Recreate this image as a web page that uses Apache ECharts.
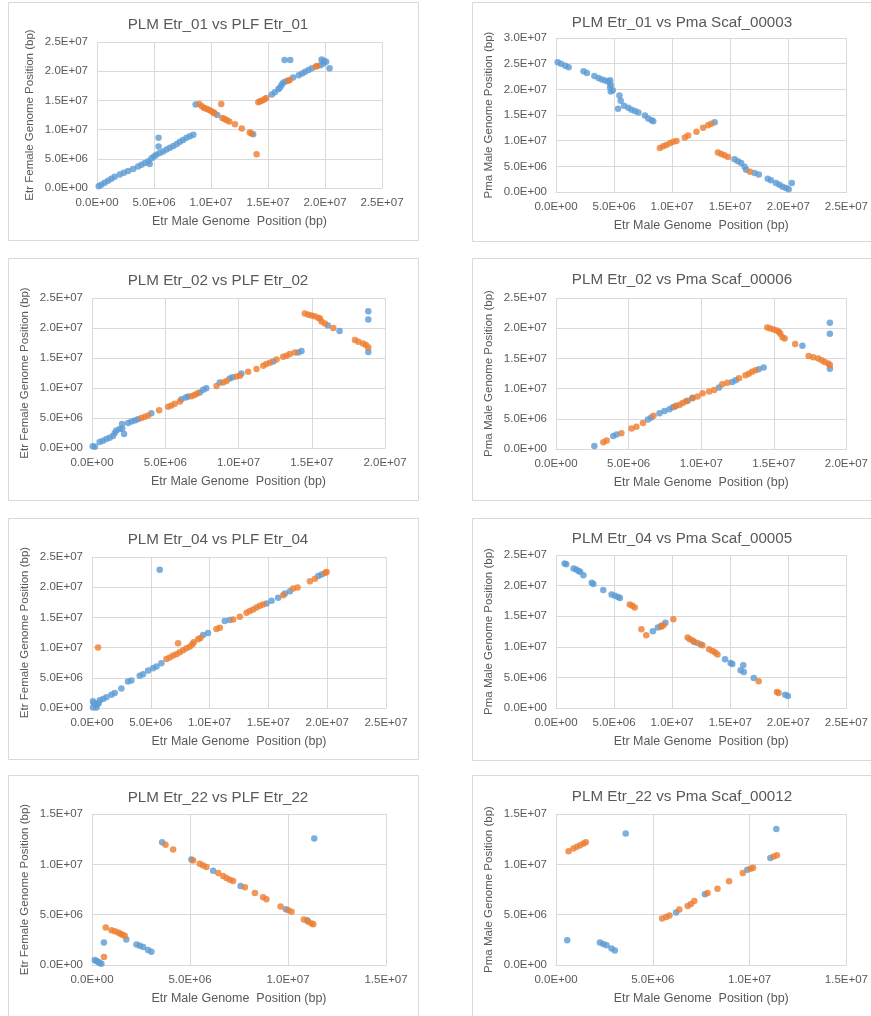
<!DOCTYPE html>
<html><head><meta charset="utf-8">
<script src="https://cdn.jsdelivr.net/npm/echarts@6/dist/echarts.min.js"></script>
<style>html,body{margin:0;padding:0;background:#fff}#c{width:871px;height:1016px}</style>
</head><body><div id="c"></div>
<script>
// Values in megabases (1 unit = 1E+06 bp); axis labels show bp in Excel-style scientific format.
const titles = [
  "PLM Etr_01 vs PLF Etr_01", "PLM Etr_01 vs Pma Scaf_00003",
  "PLM Etr_02 vs PLF Etr_02", "PLM Etr_02 vs Pma Scaf_00006",
  "PLM Etr_04 vs PLF Etr_04", "PLM Etr_04 vs Pma Scaf_00005",
  "PLM Etr_22 vs PLF Etr_22", "PLM Etr_22 vs Pma Scaf_00012"
];
const xAxisTitle = "Etr Male Genome  Position (bp)";
const yTitleFemale = "Etr Female Genome Position (bp)";
const yTitlePma = "Pma Male Genome Position (bp)";
const xMax = [25, 25, 20, 20, 25, 25, 15, 15];
const yMax = [25, 30, 25, 25, 25, 25, 15, 15];
const tickStep = 5;

const p1Blue = [[0.15,0.28],[0.38,0.57],[0.67,0.9],[0.97,1.25],[1.26,1.6],[1.55,1.93],[2.0,2.33],[2.35,2.6],[2.73,2.9],[3.17,3.24],[3.6,3.7],[3.9,4.0],[4.2,4.26],[4.5,4.6],[4.62,4.1],[4.78,5.1],[5.0,5.4],[5.2,5.7],[5.5,6.0],[5.8,6.25],[6.1,6.6],[6.4,6.9],[6.7,7.2],[7.0,7.55],[7.27,7.9],[7.56,8.2],[7.85,8.6],[8.15,8.85],[8.45,9.1],[5.4,8.6],[5.4,7.1],[8.65,14.3],[10.55,12.5],[13.7,9.2],[15.33,16.0],[15.6,16.4],[15.9,16.9],[16.06,17.2],[16.2,17.7],[16.35,18.07],[16.6,18.3],[17.2,18.9],[17.7,19.3],[18.0,19.6],[18.26,19.9],[18.55,20.2],[18.85,20.5],[19.6,21.0],[19.87,21.3],[20.1,21.6],[16.45,21.9],[16.95,21.9],[19.7,22.0],[19.9,21.8],[20.4,20.5]];
const p1Orange = [[8.97,14.4],[9.2,14.0],[9.4,13.7],[9.6,13.55],[9.8,13.4],[10.0,13.2],[10.2,12.95],[10.3,12.8],[11.0,12.0],[11.2,11.8],[11.4,11.6],[11.6,11.4],[12.1,10.9],[12.7,10.2],[13.4,9.5],[13.55,9.35],[10.9,14.4],[14.0,5.8],[14.15,14.7],[14.3,14.85],[14.5,15.0],[14.7,15.2],[14.85,15.4],[16.8,18.4],[16.9,18.5],[19.2,20.8],[19.3,20.9]];

const p2Blue = [[0.14,25.3],[0.43,25.0],[0.8,24.6],[1.09,24.3],[2.37,23.5],[2.66,23.2],[3.3,22.6],[3.66,22.2],[3.94,21.9],[4.23,21.7],[4.5,21.5],[4.66,21.75],[4.71,20.9],[4.66,20.4],[4.71,19.6],[4.89,19.8],[5.46,18.8],[5.57,17.8],[5.34,16.2],[5.86,16.8],[6.23,16.4],[6.5,16.0],[6.8,15.8],[7.09,15.5],[7.66,14.9],[7.94,14.3],[8.23,14.0],[8.37,13.8],[13.66,13.6],[15.37,6.4],[15.66,6.0],[15.94,5.65],[16.23,4.9],[16.37,4.35],[17.09,3.7],[17.46,3.4],[18.23,2.6],[18.5,2.3],[18.94,1.75],[19.23,1.43],[19.5,1.04],[19.8,0.78],[20.03,0.52],[20.3,1.75]];
const p2Orange = [[8.94,8.57],[9.23,8.9],[9.5,9.15],[9.8,9.5],[10.09,9.8],[10.37,9.94],[11.09,10.6],[11.37,11.0],[12.09,11.75],[12.66,12.5],[13.09,13.0],[13.37,13.3],[13.94,7.7],[14.23,7.4],[14.5,7.14],[14.8,6.8],[16.7,3.96]];

const p3Blue = [[0.05,0.3],[0.2,0.2],[0.52,1.0],[0.75,1.2],[0.98,1.5],[1.2,1.7],[1.43,2.0],[1.55,2.5],[1.66,2.93],[1.89,3.15],[2.05,4.0],[2.07,3.2],[2.19,2.32],[2.46,4.15],[2.69,4.4],[2.92,4.6],[3.14,4.8],[4.05,5.8],[6.1,8.13],[6.4,8.4],[6.56,8.6],[7.36,9.24],[7.59,9.7],[7.8,9.96],[8.72,10.9],[9.4,11.6],[9.6,11.8],[10.2,12.4],[12.37,14.4],[14.08,15.9],[14.3,16.15],[16.1,20.4],[16.9,19.5],[18.86,22.8],[18.86,21.4],[18.86,16.0]];
const p3Orange = [[3.37,5.0],[3.6,5.2],[3.83,5.4],[4.58,6.3],[5.2,6.86],[5.42,7.08],[5.65,7.36],[6.0,7.74],[6.79,8.63],[7.0,8.85],[7.18,9.07],[8.5,10.34],[8.95,10.9],[9.18,11.17],[9.86,11.9],[10.1,12.06],[10.66,12.7],[11.23,13.16],[11.69,13.7],[11.9,14.0],[12.14,14.2],[12.6,14.77],[13.05,15.2],[13.28,15.38],[13.5,15.65],[13.85,15.9],[14.53,22.4],[14.76,22.2],[14.99,22.1],[15.2,21.96],[15.44,21.7],[15.56,21.57],[15.67,21.1],[15.9,20.74],[16.47,20.0],[17.95,18.0],[18.18,17.7],[18.5,17.4],[18.7,17.15],[18.86,16.76]];

const p4Blue = [[2.64,0.5],[3.94,2.15],[4.17,2.4],[6.33,4.9],[6.56,5.2],[7.13,5.9],[7.47,6.3],[7.81,6.6],[8.04,6.9],[8.27,7.16],[9.07,8.0],[9.4,8.5],[11.23,10.2],[12.14,11.1],[12.37,11.4],[13.96,13.2],[14.3,13.5],[16.97,17.1],[18.86,20.9],[18.86,19.1],[18.86,13.3]];
const p4Orange = [[3.26,1.1],[3.49,1.4],[4.5,2.6],[5.2,3.4],[5.54,3.7],[5.99,4.3],[6.72,5.5],[8.16,7.0],[8.5,7.3],[8.72,7.6],[8.95,7.9],[9.4,8.4],[9.75,8.7],[10.1,9.25],[10.55,9.5],[10.9,9.75],[11.45,10.7],[11.8,10.96],[12.6,11.7],[13.05,12.2],[13.28,12.45],[13.5,12.8],[13.74,13.05],[14.55,20.1],[14.76,19.95],[14.99,19.8],[15.2,19.6],[15.35,19.4],[15.45,19.1],[15.6,18.5],[15.75,18.3],[16.47,17.4],[17.4,15.4],[17.72,15.2],[18.06,15.0],[18.3,14.7],[18.5,14.4],[18.75,14.15],[18.86,13.9]];

const p5Blue = [[0.08,1.1],[0.17,0.8],[0.08,0.1],[0.37,0.1],[0.43,0.55],[0.57,0.8],[0.65,1.3],[0.94,1.5],[1.22,1.76],[1.65,2.2],[1.93,2.5],[2.5,3.24],[3.06,4.4],[3.35,4.56],[4.06,5.33],[4.34,5.6],[4.77,6.2],[5.19,6.6],[5.48,6.87],[5.9,7.4],[5.76,22.9],[9.45,12.1],[9.87,12.4],[11.29,14.4],[11.72,14.56],[14.84,17.3],[15.27,17.75],[15.83,18.24],[16.4,18.96],[16.83,19.34],[19.24,21.87],[19.52,22.1]];
const p5Orange = [[0.51,10.0],[7.32,10.7],[6.33,8.13],[6.61,8.35],[6.9,8.68],[7.18,8.9],[7.46,9.23],[7.75,9.56],[8.03,9.9],[8.31,10.16],[8.54,10.55],[8.65,10.88],[9.02,11.37],[9.22,11.6],[10.58,13.08],[10.87,13.3],[12.0,14.67],[12.57,15.1],[13.14,15.77],[13.42,16.04],[13.7,16.32],[13.99,16.65],[14.27,16.92],[14.55,17.14],[16.26,18.68],[17.11,19.78],[17.48,19.95],[18.53,21.0],[18.96,21.4],[19.81,22.36],[19.95,22.5]];

const p6Blue = [[0.74,23.63],[0.88,23.5],[1.51,22.8],[1.74,22.65],[1.94,22.4],[2.08,22.27],[2.36,21.7],[3.08,20.47],[3.22,20.25],[4.07,19.27],[4.78,18.56],[5.07,18.34],[5.35,18.12],[5.5,17.96],[8.34,12.55],[8.77,13.15],[9.05,13.43],[9.42,13.92],[11.9,10.8],[12.47,10.37],[14.55,7.97],[15.03,7.37],[15.18,7.2],[15.89,6.17],[16.17,5.9],[16.12,6.99],[17.03,4.9],[19.73,2.18],[19.96,1.97]];
const p6Orange = [[6.35,16.92],[6.58,16.7],[6.78,16.43],[7.35,12.88],[7.77,11.9],[9.05,13.27],[9.25,13.54],[10.1,14.52],[11.33,11.52],[11.53,11.24],[11.76,11.03],[12.19,10.64],[12.61,10.26],[13.18,9.6],[13.47,9.33],[13.7,9.06],[13.9,8.73],[17.45,4.37],[19.02,2.62],[19.16,2.46]];

const p7Blue = [[0.14,0.49],[0.22,0.4],[0.31,0.33],[0.39,0.2],[0.48,0.13],[0.61,2.24],[1.75,2.54],[2.27,2.04],[2.44,1.91],[2.61,1.78],[2.86,1.48],[3.03,1.32],[3.58,12.2],[5.07,10.48],[6.18,9.36],[7.58,7.85],[9.89,5.54],[10.98,4.45],[11.34,12.56]];
const p7Orange = [[0.61,0.79],[0.7,3.73],[0.99,3.46],[1.16,3.36],[1.33,3.23],[1.45,3.1],[1.55,3.0],[1.67,2.9],[3.75,11.94],[4.14,11.47],[5.16,10.39],[5.5,10.06],[5.67,9.89],[5.84,9.73],[6.44,9.13],[6.69,8.84],[6.86,8.64],[7.03,8.47],[7.2,8.34],[7.8,7.72],[8.31,7.15],[8.73,6.73],[8.9,6.53],[9.62,5.8],[10.01,5.44],[10.18,5.28],[10.81,4.52],[11.03,4.29],[11.2,4.12],[11.29,4.06]];

const p8Blue = [[0.58,2.47],[2.27,2.24],[2.44,2.08],[2.61,1.95],[2.87,1.65],[3.04,1.45],[3.6,13.06],[6.2,5.21],[7.69,7.02],[9.88,9.46],[11.07,10.62],[11.38,13.52]];
const p8Orange = [[0.65,11.31],[0.9,11.57],[1.08,11.74],[1.25,11.9],[1.42,12.07],[1.54,12.2],[5.48,4.62],[5.69,4.78],[5.86,4.92],[6.37,5.51],[6.8,5.87],[6.97,6.07],[7.14,6.36],[7.83,7.15],[8.34,7.58],[8.94,8.31],[9.65,9.13],[10.05,9.56],[10.18,9.66],[11.24,10.78],[11.41,10.91]];

const blueData = [p1Blue,p2Blue,p3Blue,p4Blue,p5Blue,p6Blue,p7Blue,p8Blue];
const orangeData = [p1Orange,p2Orange,p3Orange,p4Orange,p5Orange,p6Orange,p7Orange,p8Orange];

// layout (pixels)
const plots = [
  {l:97,t:42,r:382,b:188},{l:556,t:38,r:847,b:192},
  {l:92,t:298,r:385,b:448},{l:556,t:298,r:848,b:449},
  {l:92,t:557,r:386,b:708},{l:556,t:555,r:848,b:708},
  {l:92,t:814,r:386,b:965},{l:556,t:814,r:848,b:965}
];
const boxes = [
  {x:8,y:2,w:410,h:238},{x:472,y:2,w:420,h:239},
  {x:8,y:258,w:410,h:242},{x:472,y:258,w:420,h:242},
  {x:8,y:518,w:410,h:241},{x:472,y:518,w:420,h:242},
  {x:8,y:775,w:410,h:260},{x:472,y:775,w:420,h:260}
];
const titleCenters = [[213,20],[677,18],[213,276],[677,275],[213,535],[677,534],[213,793],[677,792]];

const TXT = '#595959', GRID = '#d9d9d9', BLUE = '#5B9BD5', ORANGE = '#ED7D31';
const FONT = 'Liberation Sans, Arial, sans-serif';

function fmt(v){
  const bp = Math.round(v*1e6);
  if (bp === 0) return '0.0E+00';
  const e = Math.floor(Math.log10(bp) + 1e-9);
  const m = bp / Math.pow(10, e);
  return m.toFixed(1) + 'E+' + (e < 10 ? '0' : '') + e;
}

const grid=[], xAxis=[], yAxis=[], series=[], title=[], graphic=[];
for (let i=0;i<8;i++){
  const p = plots[i];
  grid.push({left:p.l, top:p.t, width:p.r-p.l, height:p.b-p.t, containLabel:false});
  xAxis.push({type:'value', gridIndex:i, min:0, max:xMax[i], interval:tickStep,
    name:xAxisTitle, nameLocation:'middle', nameGap:27,
    nameTextStyle:{color:TXT, fontSize:12.5, fontFamily:FONT},
    axisLine:{show:true, lineStyle:{color:GRID}}, axisTick:{show:false},
    axisLabel:{color:TXT, fontSize:11.5, fontFamily:FONT, margin:9, formatter:fmt, showMaxLabel:true, showMinLabel:true},
    splitLine:{show:true, lineStyle:{color:GRID, width:1}}});
  yAxis.push({type:'value', gridIndex:i, min:0, max:yMax[i], interval:tickStep,
    name:(i%2===0?yTitleFemale:yTitlePma), nameLocation:'middle', nameGap:61, nameRotate:90,
    nameTextStyle:{color:TXT, fontSize:11.5, fontFamily:FONT},
    axisLine:{show:false}, axisTick:{show:false},
    axisLabel:{color:TXT, fontSize:11.5, fontFamily:FONT, margin:9, formatter:fmt},
    splitLine:{show:true, lineStyle:{color:GRID, width:1}}});
  series.push({type:'scatter', xAxisIndex:i, yAxisIndex:i, data:blueData[i], symbol:'circle', symbolSize:6.5,
    itemStyle:{color:BLUE}, silent:true, animation:false});
  series.push({type:'scatter', xAxisIndex:i, yAxisIndex:i, data:orangeData[i], symbol:'circle', symbolSize:6.5,
    itemStyle:{color:ORANGE}, silent:true, animation:false});
  title.push({text:titles[i], left:titleCenters[i][0], top:titleCenters[i][1], textAlign:'center', textVerticalAlign:'middle',
    textStyle:{color:TXT, fontSize:15.2, fontWeight:'normal', fontFamily:FONT}});
  const b = boxes[i];
  graphic.push({type:'rect', shape:{x:b.x+0.5, y:b.y+0.5, width:b.w, height:b.h},
    style:{fill:'none', stroke:GRID, lineWidth:1}, silent:true, z:-1});
}

const chart = echarts.init(document.getElementById('c'), null, {renderer:'canvas'});
chart.setOption({backgroundColor:'#fff', animation:false, title, grid, xAxis, yAxis, series, graphic});
</script></body></html>
